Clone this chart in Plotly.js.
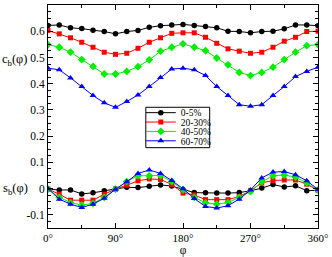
<!DOCTYPE html>
<html>
<head>
<meta charset="utf-8">
<script src="https://cdn.plot.ly/plotly-3.0.1.min.js"></script>
<style>html,body{margin:0;padding:0;background:#fff;}#chart{width:332px;height:257px;}</style>
</head>
<body>
<div id="chart"></div>
<script>
const phi = [0,15,30,45,60,75,90,105,120,135,150,165,180,195,210,225,240,255,270,285,300,315,330,345,360];
const seriesNames = ["0-5%","20-30%","40-50%","60-70%"];
const cb_0_5   = [0.622,0.624,0.613,0.610,0.604,0.599,0.590,0.599,0.603,0.615,0.621,0.624,0.626,0.622,0.618,0.613,0.600,0.599,0.594,0.599,0.600,0.609,0.624,0.624,0.621];
const cb_20_30 = [0.603,0.590,0.575,0.558,0.539,0.520,0.512,0.516,0.535,0.558,0.575,0.592,0.594,0.594,0.577,0.554,0.533,0.524,0.516,0.520,0.539,0.562,0.577,0.599,0.600];
const cb_40_50 = [0.549,0.539,0.520,0.492,0.466,0.437,0.437,0.447,0.465,0.491,0.524,0.539,0.552,0.539,0.526,0.498,0.472,0.443,0.431,0.443,0.463,0.492,0.520,0.545,0.549];
const cb_60_70 = [0.459,0.453,0.422,0.389,0.355,0.327,0.310,0.332,0.357,0.389,0.424,0.456,0.459,0.453,0.431,0.389,0.355,0.320,0.314,0.320,0.355,0.389,0.427,0.447,0.463];
const sb_0_5   = [-0.002,-0.005,-0.005,-0.020,-0.016,-0.008,-0.001,0.005,0.004,0.009,0.014,0.010,-0.003,-0.015,-0.016,-0.017,-0.017,-0.015,-0.008,0.002,0.016,0.006,0.011,-0.008,-0.006];
const sb_20_30 = [-0.002,-0.021,-0.044,-0.044,-0.044,-0.021,-0.002,0.013,0.030,0.037,0.035,0.016,-0.017,-0.024,-0.042,-0.042,-0.042,-0.030,-0.008,0.022,0.031,0.033,0.033,0.017,-0.006];
const sb_40_50 = [-0.002,-0.033,-0.053,-0.063,-0.056,-0.033,-0.002,0.027,0.049,0.049,0.050,0.027,-0.005,-0.033,-0.054,-0.059,-0.053,-0.033,-0.011,0.026,0.049,0.052,0.044,0.022,-0.006];
const sb_60_70 = [0.000,-0.040,-0.059,-0.072,-0.059,-0.037,-0.002,0.026,0.058,0.071,0.058,0.031,0.000,-0.038,-0.068,-0.074,-0.065,-0.040,-0.005,0.041,0.063,0.065,0.053,0.030,-0.003];
const xTickVals = [0,90,180,270,360];
const xTickText = ["0°","90°","180°","270°","360°"];
const yTickVals = [-0.1,0,0.1,0.2,0.3,0.4,0.5,0.6,0.7];
const yTickText = ["-0.1","0","0.1","0.2","0.3","0.4","0.5","0.6","0.7"];

const colors = ["#000000","#ff0000","#00ee00","#0000ff"];
const symbols = ["circle","square","diamond","triangle-up"];
const sizes = [5.5,5,6,6];
const cbAll = [cb_0_5,cb_20_30,cb_40_50,cb_60_70];
const sbAll = [sb_0_5,sb_20_30,sb_40_50,sb_60_70];
const legendIds = ["legend","legend2","legend3","legend4"];

const traces = [];
for (let i = 0; i < 4; i++) {
  const base = {x: phi, type: "scatter", mode: "lines+markers",
    line: {color: colors[i], width: 1},
    marker: {color: colors[i], symbol: symbols[i], size: sizes[i]},
    legendgroup: "g"+i, legend: legendIds[i], name: seriesNames[i]};
  traces.push(Object.assign({}, base, {y: cbAll[i], showlegend: true}));
  traces.push(Object.assign({}, base, {y: sbAll[i], showlegend: false}));
}

const F = "'Liberation Serif', 'Times New Roman', serif";
const plotL = 48, plotR = 318.5, plotT = 4.5, plotB = 228;
const pw = plotR - plotL, ph = plotB - plotT;
const px = v => (v - plotL) / pw;
const py = v => (plotB - v) / ph;
const legendCenters = [112.4, 121.8, 131.2, 140.6];

const layout = {
  width: 332, height: 257,
  margin: {l: plotL, r: 332 - plotR, t: plotT, b: 257 - plotB},
  paper_bgcolor: "#fff", plot_bgcolor: "#fff",
  font: {family: F, size: 10, color: "#000"},
  xaxis: {range: [0,360], tickmode: "array", tickvals: xTickVals, ticktext: xTickText,
    ticks: "inside", ticklen: 5, tickwidth: 1, tickcolor: "#000",
    minor: {tickmode: "linear", tick0: 0, dtick: 45, ticks: "inside", ticklen: 3, tickcolor: "#000"},
    showline: true, linecolor: "#000", linewidth: 1, mirror: "allticks",
    showgrid: false, zeroline: false,
    tickfont: {family: F, size: 11, color: "#000"},
    title: {text: "φ", font: {family: F, size: 11.5, color: "#000"}, standoff: 3}},
  yaxis: {range: [-0.15,0.7], tickmode: "array", tickvals: yTickVals, ticktext: yTickText,
    ticks: "inside", ticklen: 5, tickwidth: 1, tickcolor: "#000",
    minor: {tickmode: "linear", tick0: 0, dtick: 0.025, ticks: "inside", ticklen: 3, tickcolor: "#000"},
    showline: true, linecolor: "#000", linewidth: 1, mirror: "allticks",
    showgrid: false, zeroline: false,
    tickfont: {family: F, size: 11.5, color: "#000"}},
  annotations: [
    {text: "c<sub>b</sub>(φ)", xref: "paper", yref: "y", x: px(0), y: 0.49, xanchor: "left", yanchor: "middle",
     showarrow: false, font: {family: F, size: 12.5, color: "#000"}},
    {text: "s<sub>b</sub>(φ)", xref: "paper", yref: "y", x: px(1), y: 0.0, xanchor: "left", yanchor: "middle",
     showarrow: false, font: {family: F, size: 12.5, color: "#000"}}
  ],
  shapes: [
    {type: "rect", xref: "paper", yref: "paper", x0: px(146), x1: px(210), y0: py(147.5), y1: py(107),
     fillcolor: "#fff", line: {color: "#000", width: 1}, layer: "above"}
  ]
};
for (let i = 0; i < 4; i++) {
  layout[legendIds[i]] = {x: px(141), y: py(legendCenters[i]), xanchor: "left", yanchor: "middle",
    bgcolor: "rgba(0,0,0,0)", borderwidth: 0, itemwidth: 30,
    font: {family: F, size: 9.5, color: "#000"}};
}
Plotly.newPlot("chart", traces, layout, {displayModeBar: false, staticPlot: true});
</script>
</body>
</html>
